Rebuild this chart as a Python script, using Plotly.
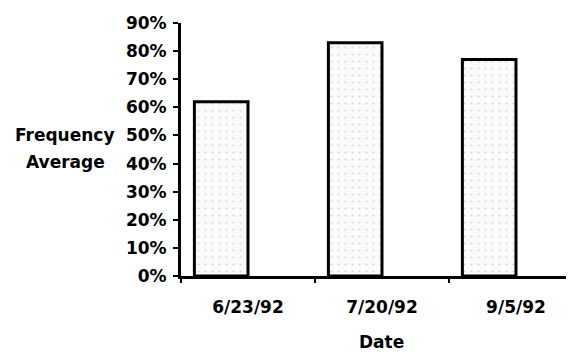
import plotly.graph_objects as go

dates = ["6/23/92", "7/20/92", "9/5/92"]
freq_avg = [0.62, 0.83, 0.77]
y_ticks = [0, 0.1, 0.2, 0.3, 0.4, 0.5, 0.6, 0.7, 0.8, 0.9]
y_tick_labels = ["0%", "10%", "20%", "30%", "40%", "50%", "60%", "70%", "80%", "90%"]

FONT = "DejaVu Sans"

fig = go.Figure()
fig.add_trace(go.Bar(
    x=dates, y=freq_avg,
    width=0.4, offset=-0.4,
    marker=dict(
        color="#f7f7f7",
        line=dict(color="black", width=3),
        pattern=dict(shape=".", fgcolor="#b5b5b5", bgcolor="#fbfbfb", size=7, solidity=0.08),
    ),
    showlegend=False,
))

# page body has an 8px default margin, so the figure is sized to fit the window
fig.update_layout(
    width=566, height=346,
    margin=dict(l=173, r=0, t=15, b=78),
    paper_bgcolor="white", plot_bgcolor="white",
    font=dict(family=FONT, size=17, color="black"),
    xaxis=dict(
        type="category",
        range=[-0.5, 2.433],
        showgrid=False, zeroline=False,
        showline=True, linecolor="black", linewidth=3,
        ticks="outside", ticklen=4, tickwidth=2, tickcolor="black",
        tickson="boundaries",
        tickfont=dict(family=FONT, size=17, color="black", weight="bold"),
        ticklabelstandoff=14,
    ),
    yaxis=dict(
        range=[0, 0.9],
        tickvals=y_ticks, ticktext=y_tick_labels,
        showgrid=False, zeroline=False,
        showline=True, linecolor="black", linewidth=3,
        ticks="outside", ticklen=5, tickwidth=2, tickcolor="black",
        tickfont=dict(family=FONT, size=17, color="black", weight="bold"),
        ticklabelstandoff=3,
    ),
)

fig.add_annotation(text="<b>Frequency</b>", xref="paper", yref="y", x=-0.295, y=0.5,
                   xanchor="center", yanchor="middle", showarrow=False,
                   font=dict(family=FONT, size=17, color="black"))
fig.add_annotation(text="<b>Average</b>", xref="paper", yref="y", x=-0.295, y=0.405,
                   xanchor="center", yanchor="middle", showarrow=False,
                   font=dict(family=FONT, size=17, color="black"))
fig.add_annotation(text="<b>Date</b>", xref="x", yref="paper", x=1, y=-0.261,
                   xanchor="center", yanchor="middle", showarrow=False,
                   font=dict(family=FONT, size=17, color="black"))

fig.write_html("out.html")
